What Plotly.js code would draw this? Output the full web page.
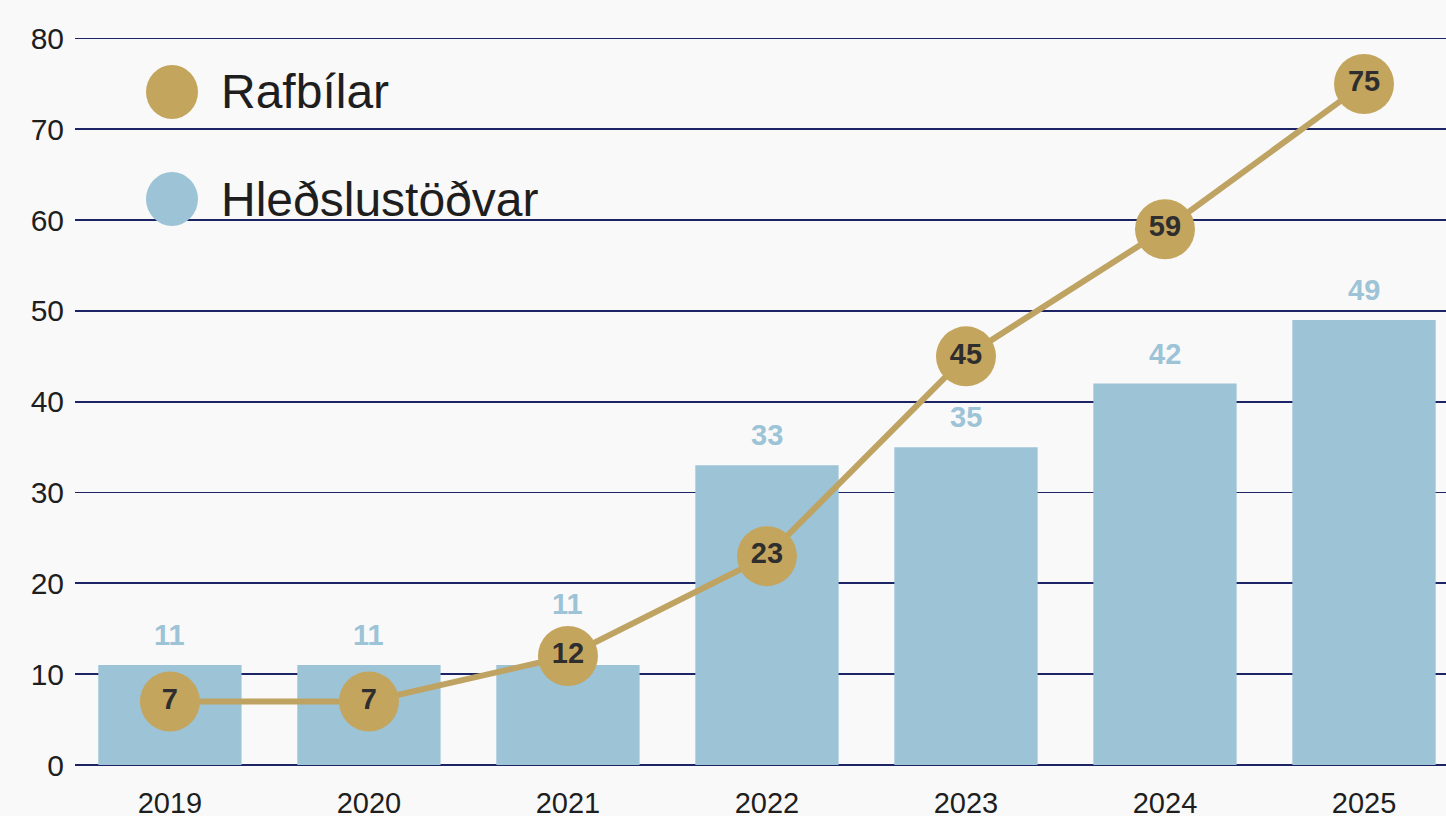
<!DOCTYPE html>
<html><head><meta charset="utf-8">
<script src="https://cdn.plot.ly/plotly-3.0.1.min.js"></script>
<style>body{margin:0;background:#f9f9f9}#c{width:1446px;height:816px}</style>
</head><body><div id="c"></div>
<script>
const years = ['2019','2020','2021','2022','2023','2024','2025'];
const hledslustodvar = [11, 11, 11, 33, 35, 42, 49];
const rafbilar = [7, 7, 12, 23, 45, 59, 75];
const seriesNames = ['Rafbílar', 'Hleðslustöðvar'];
const yTicks = [0,10,20,30,40,50,60,70,80];

const gold = '#c4a55e', goldLine = '#bfa362', blue = '#9dc3d7', navy = '#1d2466';
const font = '"Liberation Sans", Arial, Helvetica, sans-serif';
const M = {l:75, r:0, t:34, b:51};
const yMax = 80.5;
const plotH = 816 - M.t - M.b;
const pxPerUnit = plotH / yMax;
const markerSize = 60;
const labelGap = 12, labelH = 35;

const traces = [
  {type:'bar', x: years, y: hledslustodvar, name: seriesNames[1], marker:{color: blue}, width: 0.72, hoverinfo:'none'},
  {type:'scatter', mode:'lines+markers+text', x: years, y: rafbilar, name: seriesNames[0],
   line:{color: goldLine, width: 6}, marker:{color: gold, size: markerSize},
   text: rafbilar.map(String), textposition:'middle center',
   textfont:{family: font, size: 29, color:'#2e2e2e', weight: 700}, cliponaxis:false, hoverinfo:'none'}
];

// bar value labels sit above the bar, lifted above the line marker only when it would collide
const annotations = years.map((yr,i)=>{
  const dy = (rafbilar[i] - hledslustodvar[i]) * pxPerUnit;
  const collide = (dy - markerSize/2 < labelGap + labelH) && (dy + markerSize/2 > labelGap);
  const shift = collide ? dy + markerSize/2 - 8 + labelGap : labelGap;
  return {x: i, y: hledslustodvar[i], xref:'x', yref:'y', text: String(hledslustodvar[i]),
    showarrow:false, yanchor:'bottom', yshift: shift,
    font:{family: font, size: 29, color: blue, weight: 700}};
});

const legendItems = [{name: seriesNames[0], color: gold, y: 92}, {name: seriesNames[1], color: blue, y: 199}];
const shapes = [];
legendItems.forEach(it=>{
  const yp = (816 - M.b - it.y) / plotH;
  const xp = (172 - M.l) / (1446 - M.l);
  shapes.push({type:'circle', xref:'paper', yref:'paper', xsizemode:'pixel', ysizemode:'pixel',
    xanchor: xp, yanchor: yp, x0:-26, x1:26, y0:-27, y1:27, fillcolor: it.color, line:{width:0}});
  annotations.push({xref:'paper', yref:'paper', x:(219 - M.l)/(1446 - M.l), y: yp, xanchor:'left', yanchor:'middle',
    text: it.name, showarrow:false, font:{family: font, size: 48, color:'#1e1e1e'}});
});

const layout = {
  width:1446, height:816, margin: M,
  paper_bgcolor:'#f9f9f9', plot_bgcolor:'#f9f9f9', showlegend:false,
  xaxis:{type:'category', range:[-0.477, 6.412], showgrid:false, zeroline:false, showline:false, ticks:'',
    ticklabelstandoff: 18, tickfont:{family: font, size: 29, color:'#1e1e1e'}},
  yaxis:{range:[0, yMax], tickvals: yTicks, showgrid:true, gridcolor: navy, gridwidth:1.8, zeroline:true, zerolinecolor: navy, zerolinewidth:1.8,
    showline:false, ticks:'outside', ticklen:4, tickcolor:'#f9f9f9', tickfont:{family: font, size: 30, color:'#1e1e1e'}},
  annotations, shapes
};
Plotly.newPlot('c', traces, layout, {displayModeBar:false, staticPlot:true});
</script></body></html>
